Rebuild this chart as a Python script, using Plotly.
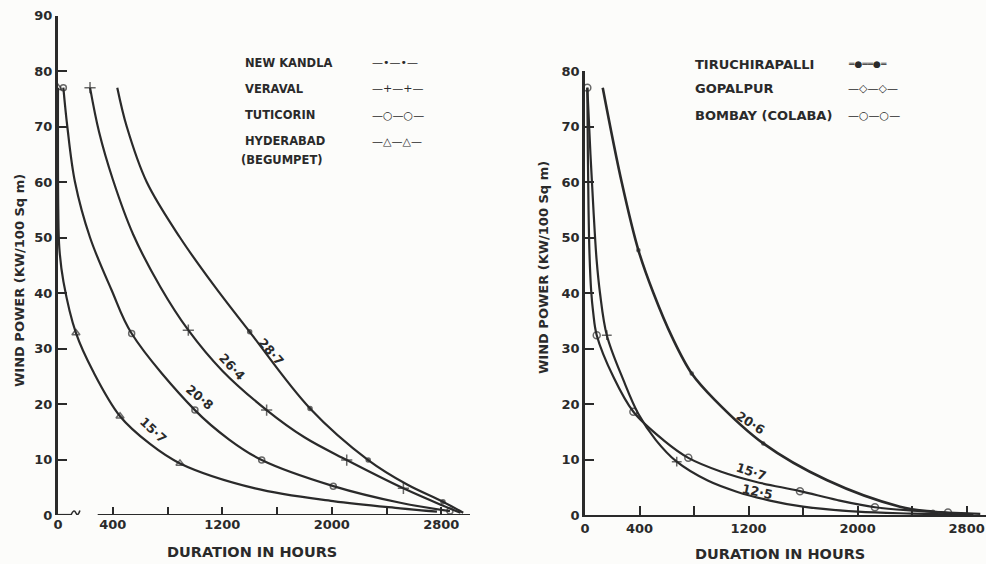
import plotly.graph_objects as go

# ---------------- DATA ----------------
# Left panel: duration (hours) vs wind power (kW/100 sq m)
nk_h = [433, 502, 648, 891, 1135, 1400, 1841, 2266, 2550, 2812, 2960]
nk_v = [77, 70, 60, 50, 41.5, 33, 19.2, 9.9, 5.5, 2.4, 0.4]
nk_m = [0, 0, 0, 0, 0, 1, 1, 1, 0, 1, 0]

ve_h = [234, 300, 400, 550, 750, 952, 1200, 1524, 1800, 2109, 2523, 2800, 2940]
ve_v = [77, 69, 60.5, 50.5, 41, 33.3, 26, 18.9, 14, 9.9, 4.8, 1.8, 0.4]
ve_m = [1, 0, 0, 0, 0, 1, 0, 1, 0, 1, 1, 0, 0]

tu_h = [39, 68, 124, 234, 392, 538, 1000, 1250, 1488, 2011, 2500, 2863]
tu_v = [77, 70, 60, 50, 40.5, 32.7, 18.9, 13.6, 9.9, 5.2, 2.2, 0.7]
tu_m = [1, 0, 0, 0, 0, 1, 1, 0, 1, 1, 0, 1]

hy_h = [0, 2, 10, 40, 131, 258, 453, 672, 891, 1440, 2009, 2500, 2768]
hy_v = [77, 55, 48, 42, 32.8, 25.8, 17.8, 12.8, 9.3, 4.8, 2.5, 1.2, 0.6]
hy_m = [1, 0, 0, 0, 1, 0, 1, 0, 1, 0, 0, 0, 0]

# Right panel
tr_h = [130, 269, 392, 502, 640, 783, 950, 1308, 1773, 2311, 2553, 2850]
tr_v = [77, 60, 47.7, 40, 32, 25.5, 20.8, 12.9, 6.3, 1.5, 0.6, 0.1]
tr_m = [0, 0, 1, 0, 0, 1, 0, 1, 0, 0, 1, 0]

gp_h = [17, 40, 62, 85, 110, 160, 282, 392, 520, 673, 900, 1113, 1357, 1600,
        2000, 2400, 2750]
gp_v = [77, 65, 55, 46, 40, 32.4, 24.3, 18.2, 13.5, 9.6, 6.2, 4.2, 2.6, 1.5,
        0.6, 0.25, 0.05]
gp_m = [0, 0, 0, 0, 0, 1, 0, 0, 0, 1, 0, 0, 0, 0, 0, 0, 0]

bo_h = [17, 21, 26, 33, 45, 60, 86, 208, 355, 575, 758, 1000, 1250, 1577,
        1850, 2127, 2400, 2663, 2900]
bo_v = [77, 65, 55, 47, 40.5, 36.5, 32.4, 24.9, 18.6, 13.5, 10.3, 7.8, 6.0,
        4.3, 2.7, 1.4, 0.8, 0.45, 0.2]
bo_m = [1, 0, 0, 0, 0, 0, 1, 0, 1, 0, 1, 0, 0, 1, 0, 1, 0, 1, 0]

left_labels = ["28·7", "26·4", "20·8", "15·7"]
right_labels = ["20·6", "15·7", "12·5"]

y_left_ticks = [0, 10, 20, 30, 40, 50, 60, 70, 80, 90]
y_right_ticks = [0, 10, 20, 30, 40, 50, 60, 70, 80]
x_ticks = [0, 400, 800, 1200, 1600, 2000, 2400, 2800]
x_ticktext = ["0", "400", "", "1200", "", "2000", "", "2800"]

# ---------------- LAYOUT HELPERS ----------------
W, H = 986, 564
INK = "#2a2a2a"
FONT = "DejaVu Sans"


def px(x):
    return x / W


def py(y):
    return (H - y) / H


fig = go.Figure()


def add_curve(h, v, m, name, symbol, size, xa, ya, lw=2.2):
    fig.add_trace(go.Scatter(
        x=h, y=v, name=name, mode="lines+markers",
        line=dict(color=INK, width=lw, shape="spline", smoothing=1.0),
        marker=dict(symbol=symbol, size=[size if k else 0 for k in m],
                    color=INK, line=dict(color=INK, width=1.5)),
        xaxis=xa, yaxis=ya, showlegend=False, hoverinfo="skip"))


add_curve(nk_h, nk_v, nk_m, "NEW KANDLA", "circle", 4, "x", "y")
add_curve(ve_h, ve_v, ve_m, "VERAVAL", "cross-thin", 8, "x", "y")
add_curve(tu_h, tu_v, tu_m, "TUTICORIN", "circle-open", 6, "x", "y")
add_curve(hy_h, hy_v, hy_m, "HYDERABAD", "triangle-up-open", 7, "x", "y")

add_curve(tr_h, tr_v, tr_m, "TIRUCHIRAPALLI", "circle", 3, "x2", "y2", lw=2.6)
add_curve(gp_h, gp_v, gp_m, "GOPALPUR", "cross-thin", 7, "x2", "y2")
add_curve(bo_h, bo_v, bo_m, "BOMBAY (COLABA)", "circle-open", 7, "x2", "y2")

tickfont = dict(family=FONT, size=13, color=INK, weight="bold")

# left panel axes: x=0 at px 58, 0.1369 px/h ; y=0 at px 515, 5.55 px/unit
lx0, lx1 = 58, 470
fig.update_layout(
    xaxis=dict(domain=[px(lx0), px(lx1)], range=[0, (lx1 - lx0) / 0.1369],
               tickvals=x_ticks, ticktext=x_ticktext, ticks="inside",
               ticklen=8, tickwidth=1.6, tickcolor=INK, showgrid=False,
               zeroline=False, showline=False, tickfont=tickfont, anchor="y",
               automargin=False),
    yaxis=dict(domain=[py(515), py(515 - 90 * 5.55)], range=[0, 90],
               tickvals=y_left_ticks, ticks="inside", ticklen=9, tickwidth=1.6,
               tickcolor=INK, showgrid=False, zeroline=False, showline=True,
               linecolor=INK, linewidth=3, tickfont=tickfont, anchor="x",
               automargin=False),
)

rx0, rx1 = 585, 986
fig.update_layout(
    xaxis2=dict(domain=[px(rx0), px(rx1)], range=[0, (rx1 - rx0) / 0.1363],
                tickvals=x_ticks, ticktext=x_ticktext, ticks="inside",
                ticklen=9, tickwidth=1.6, tickcolor=INK, showgrid=False,
                zeroline=False, showline=True, linecolor=INK, linewidth=2.2,
                tickfont=tickfont, anchor="y2", automargin=False),
    yaxis2=dict(domain=[py(515), py(515 - 80 * 5.55)], range=[0, 80],
                tickvals=y_right_ticks, ticks="inside", ticklen=9,
                tickwidth=1.6, tickcolor=INK, showgrid=False, zeroline=False,
                showline=True, linecolor=INK, linewidth=2.6,
                tickfont=tickfont, anchor="x2", automargin=False),
)

# broken x axis line on left panel (decoration)
shapes = [
    dict(type="line", xref="x", yref="y", x0=0, x1=95, y0=0, y1=0,
         line=dict(color=INK, width=2.2)),
    dict(type="path", xref="x", yref="y",
         path="M 95,0 Q 115,1.2 130,0.4 T 160,0.8",
         line=dict(color=INK, width=1.6)),
    dict(type="line", xref="x", yref="y", x0=290, x1=(lx1 - lx0) / 0.1369,
         y0=0, y1=0, line=dict(color=INK, width=2.2)),
]

ann = []


def text(x, y, t, size=12, angle=0, xanchor="left", bold=True):
    ann.append(dict(x=px(x), y=py(y), xref="paper", yref="paper",
                    text=f"<b>{t}</b>" if bold else t, showarrow=False,
                    xanchor=xanchor, yanchor="middle", textangle=angle,
                    font=dict(family=FONT, size=size, color=INK)))


# legends
text(243, 63, "NEW KANDLA", 11.5)
text(243, 89, "VERAVAL", 11.5)
text(243, 115, "TUTICORIN", 11.5)
text(243, 141, "HYDERABAD", 11.5)
text(239, 160, "(BEGUMPET)", 11.5)
text(370, 63, "—•—•—", 11, bold=False)
text(370, 89, "—+—+—", 11, bold=False)
text(370, 115, "—○—○—", 11, bold=False)
text(370, 141, "—△—△—", 11, bold=False)

text(693, 64, "TIRUCHIRAPALLI", 13)
text(693, 89, "GOPALPUR", 13)
text(693, 116, "BOMBAY (COLABA)", 13)
text(846, 64, "═●══●═", 9, bold=False)
text(846, 89, "—◇—◇—", 11, bold=False)
text(846, 116, "—○—○—", 11, bold=False)

# axis titles
text(19, 281, "WIND POWER (KW/100 Sq m)", 13, angle=-90, xanchor="center")
text(252, 552, "DURATION IN HOURS", 14.5, xanchor="center")
text(543, 268, "WIND POWER (KW/100 Sq m)", 13, angle=-90, xanchor="center")
text(780, 554, "DURATION IN HOURS", 14.5, xanchor="center")

# curve labels (in data coordinates)
for (h, v, a), t in zip([(1556, 29.5, 49), (1271, 26.8, 47), (1037, 21.1, 40),
                         (701, 15.3, 43)], left_labels):
    ann.append(dict(x=h, y=v, xref="x", yref="y", text=f"<b>{t}</b>",
                    showarrow=False, textangle=a,
                    font=dict(family=FONT, size=12.5, color=INK)))
for (h, v, a), t in zip([(1211, 16.6, 33), (1218, 7.9, 18), (1262, 4.3, 12)],
                        right_labels):
    ann.append(dict(x=h, y=v, xref="x2", yref="y2", text=f"<b>{t}</b>",
                    showarrow=False, textangle=a,
                    font=dict(family=FONT, size=12.5, color=INK)))

fig.update_layout(width=W, height=H, margin=dict(l=0, r=0, t=0, b=0),
                  paper_bgcolor="#fcfcfa", plot_bgcolor="#fcfcfa",
                  annotations=ann, shapes=shapes, showlegend=False)

fig.write_html("out.html", config={"displayModeBar": False},
               post_script="document.body.style.margin='0px';"
                           "document.body.style.overflow='hidden';")
